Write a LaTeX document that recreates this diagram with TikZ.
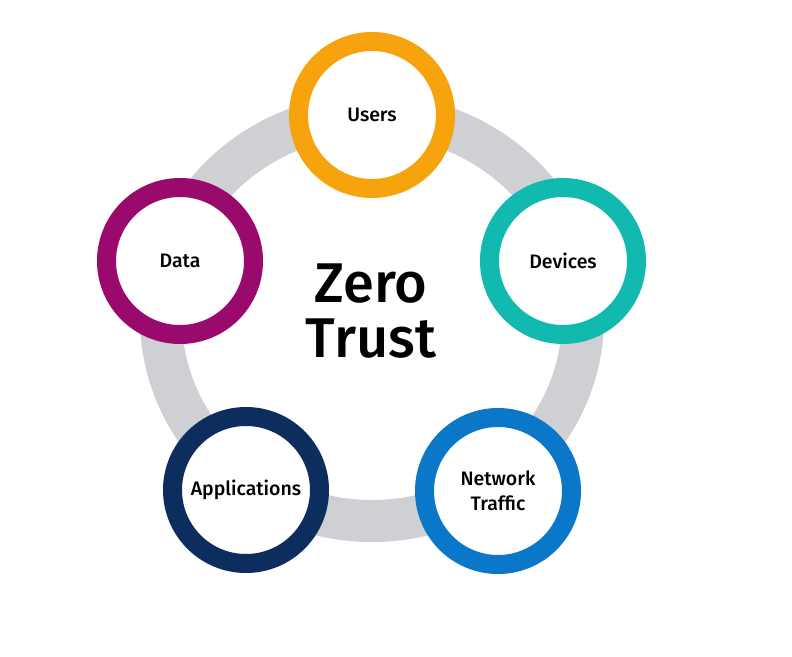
\documentclass[tikz,border=0pt]{standalone}
\usepackage{fontspec}
\setmainfont{Fira Sans Medium}
\definecolor{usersorange}{HTML}{F7A30E}
\definecolor{devicesteal}{HTML}{12B9AF}
\definecolor{datapurple}{HTML}{9A0A6D}
\definecolor{appsnavy}{HTML}{0C2D5E}
\definecolor{networkblue}{HTML}{0B77C9}
\definecolor{ringgray}{HTML}{CED0D4}
\begin{document}
\begin{tikzpicture}[x=1pt,y=-1pt,
  ringnode/.style={circle,draw=#1,line width=19pt,fill=white,minimum size=147pt,inner sep=0pt,align=center,font=\fontsize{19.5}{25}\selectfont}]
\useasboundingbox (0,0) rectangle (792,656);
\draw[ringgray, line width=42pt] (372,318) ellipse [x radius=211pt, y radius=203pt];
\node[ringnode=usersorange] (users) at (372,115) {Users};
\node[ringnode=devicesteal] (devices) at (563,261) {Devices};
\node[ringnode=datapurple] (data) at (180,261) {Data};
\node[ringnode=appsnavy] (apps) at (246,490) {Applications};
\node[ringnode=networkblue] (network) at (498,491) {Network\\Traffic};
\node[align=center, font=\fontsize{56}{55}\selectfont] (zt) at (371,311) {Zero\\Trust};
\end{tikzpicture}
\end{document}
